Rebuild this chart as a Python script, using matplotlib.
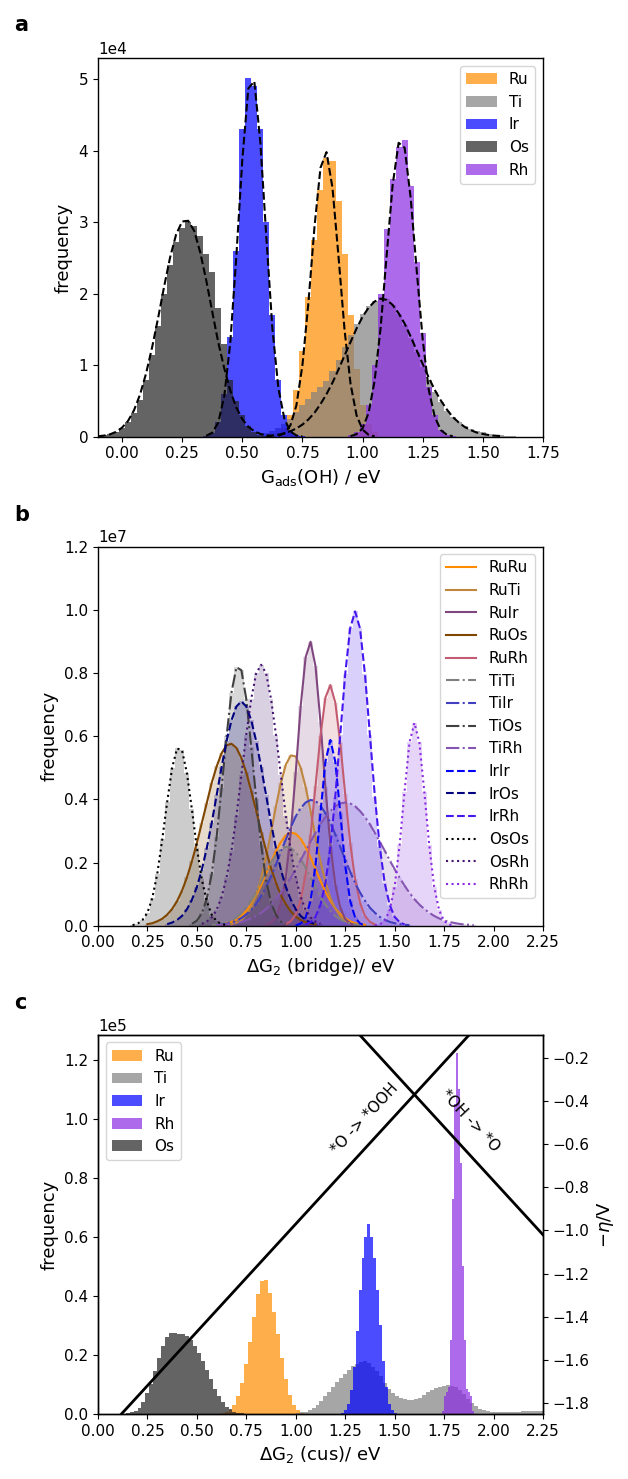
import numpy as np
import matplotlib
matplotlib.use("Agg")
import matplotlib.pyplot as plt

plt.rcParams["font.size"] = 11
plt.rcParams["axes.labelsize"] = 13
plt.rcParams["legend.fontsize"] = 11
plt.rcParams["xtick.labelsize"] = 11
plt.rcParams["ytick.labelsize"] = 11
plt.rcParams["axes.linewidth"] = 1.0

# ---------------- panel a : G_ads(OH), counts in units of 1e4 ----------------
A_ELEMENTS = ["Ru", "Ti", "Ir", "Os", "Rh"]
A_COLORS = ["darkorange", "gray", "blue", "#222222", "blueviolet"]
A_STEP = 0.025
A_START = [0.65, 0.60, 0.35, -0.10, 0.95]   # centre of first bin / first fit point

RU_HIST = [0.05, 0.12, 0.30, 0.65, 1.20, 1.95, 2.75, 3.45, 3.90, 3.85, 3.30, 2.55, 1.70, 0.95, 0.45, 0.18, 0.06]
TI_HIST = [0.05, 0.08, 0.12, 0.18, 0.25, 0.35, 0.45, 0.53, 0.62, 0.70, 0.78, 0.92, 1.08, 1.25, 1.42, 1.58,
           1.72, 1.83, 1.90, 1.95, 1.92, 1.84, 1.72, 1.56, 1.38, 1.18, 0.98, 0.80, 0.63, 0.48, 0.36, 0.27,
           0.20, 0.15, 0.11, 0.08, 0.06, 0.04, 0.03, 0.02, 0.015, 0.01]
IR_HIST = [0.01, 0.05, 0.20, 0.60, 1.40, 2.60, 4.30, 5.02, 4.90, 4.30, 3.00, 1.70, 0.80, 0.30, 0.10, 0.03, 0.01]
OS_HIST = [0.01, 0.02, 0.04, 0.07, 0.12, 0.20, 0.33, 0.52, 0.80, 1.15, 1.55, 2.00, 2.40, 2.72, 2.92, 3.00,
           2.95, 2.80, 2.55, 2.30, 1.80, 1.30, 0.80, 0.50, 0.30, 0.15, 0.07, 0.03, 0.015, 0.005]
RH_HIST = [0.02, 0.06, 0.18, 0.45, 1.00, 2.00, 2.90, 3.60, 4.05, 4.15, 3.50, 2.45, 1.45, 0.70, 0.30, 0.10, 0.03, 0.01]

# fitted normal curves (dashed)
RU_FIT = [0.012, 0.047, 0.16, 0.44, 1.00, 1.88, 2.93, 3.76, 3.98, 3.48, 2.52, 1.50, 0.74, 0.30, 0.10, 0.027, 0.006]
TI_FIT = [0.010, 0.019, 0.029, 0.048, 0.078, 0.116, 0.170, 0.242, 0.335, 0.456, 0.596, 0.756, 0.941, 1.135,
          1.324, 1.513, 1.678, 1.804, 1.891, 1.930, 1.915, 1.843, 1.726, 1.581, 1.401, 1.207, 1.018, 0.829,
          0.655, 0.509, 0.383, 0.276, 0.199, 0.136, 0.092, 0.058, 0.039, 0.024, 0.015, 0.010]
IR_FIT = [0.013, 0.056, 0.197, 0.566, 1.31, 2.51, 3.87, 4.87, 4.97, 4.12, 2.79, 1.52, 0.68, 0.25, 0.073, 0.018, 0.004]
OS_FIT = [0.007, 0.016, 0.034, 0.068, 0.127, 0.221, 0.372, 0.591, 0.885, 1.249, 1.66, 2.10, 2.51, 2.83, 3.01,
          3.02, 2.88, 2.58, 2.19, 1.75, 1.32, 0.958, 0.645, 0.410, 0.246, 0.140, 0.076, 0.040, 0.019, 0.009]
RH_FIT = [0.009, 0.036, 0.118, 0.332, 0.78, 1.52, 2.53, 3.52, 4.11, 4.04, 3.34, 2.33, 1.36, 0.66, 0.28, 0.095, 0.028, 0.007]

A_HISTS = [RU_HIST, TI_HIST, IR_HIST, OS_HIST, RH_HIST]
A_FITS = [RU_FIT, TI_FIT, IR_FIT, OS_FIT, RH_FIT]

# ---------------- panel b : dG2 (bridge), units of 1e7 ----------------
B_PAIRS = ["RuRu", "RuTi", "RuIr", "RuOs", "RuRh", "TiTi", "TiIr", "TiOs", "TiRh",
           "IrIr", "IrOs", "IrRh", "OsOs", "OsRh", "RhRh"]
B_COLORS = ["#ff8c00", "#bf8640", "#804680", "#804600", "#c45c71", "#808080", "#4040c0", "#404040",
            "#8556b1", "#0000ff", "#000080", "#4516f0", "#000000", "#451671", "#8a2be2"]
B_STYLES = ["-", "-", "-", "-", "-", "-.", "-.", "-.", "-.", "--", "--", "--", ":", ":", ":"]
B_STEP = 0.025
B_START = [0.60, 0.675, 0.85, 0.25, 0.95, 0.575, 0.60, 0.475, 0.60, 1.0, 0.35, 1.05, 0.175, 0.525, 1.40]

RURU = [0.002, 0.004, 0.007, 0.012, 0.019, 0.031, 0.047, 0.068, 0.096, 0.128, 0.165, 0.201, 0.236, 0.265,
        0.286, 0.295, 0.291, 0.275, 0.249, 0.216, 0.179, 0.142, 0.108, 0.079, 0.055, 0.037, 0.024, 0.014,
        0.008, 0.005, 0.003]
RUTI = [0.004, 0.009, 0.018, 0.034, 0.060, 0.098, 0.151, 0.218, 0.296, 0.378, 0.453, 0.510, 0.539, 0.536,
        0.500, 0.439, 0.362, 0.280, 0.203, 0.139, 0.089, 0.054, 0.030, 0.016, 0.008, 0.004]
RUIR = [0.003, 0.009, 0.027, 0.070, 0.154, 0.296, 0.486, 0.695, 0.850, 0.899, 0.821, 0.645, 0.438, 0.256,
        0.130, 0.057, 0.021, 0.007, 0.002]
RUOS = [0.005, 0.008, 0.014, 0.022, 0.035, 0.053, 0.078, 0.111, 0.153, 0.204, 0.261, 0.325, 0.388, 0.452,
        0.504, 0.546, 0.571, 0.576, 0.563, 0.531, 0.485, 0.426, 0.364, 0.298, 0.238, 0.182, 0.136, 0.096,
        0.068, 0.045, 0.029, 0.018, 0.011, 0.006, 0.004]
RURH = [0.005, 0.014, 0.036, 0.082, 0.162, 0.286, 0.443, 0.601, 0.722, 0.762, 0.706, 0.579, 0.416, 0.263,
        0.148, 0.072, 0.031, 0.012, 0.004]
TITI = [0.002, 0.003, 0.006, 0.010, 0.016, 0.026, 0.040, 0.058, 0.081, 0.108, 0.140, 0.170, 0.200, 0.224,
        0.242, 0.250, 0.246, 0.233, 0.211, 0.183, 0.152, 0.120, 0.091, 0.067, 0.047, 0.031, 0.020, 0.012,
        0.007, 0.004, 0.003]
TIIR = [0.002, 0.004, 0.006, 0.010, 0.016, 0.024, 0.035, 0.050, 0.069, 0.094, 0.123, 0.156, 0.194, 0.234,
        0.273, 0.312, 0.346, 0.372, 0.390, 0.398, 0.395, 0.380, 0.356, 0.326, 0.289, 0.249, 0.210, 0.171,
        0.135, 0.105, 0.079, 0.057, 0.041, 0.028, 0.019, 0.012, 0.008, 0.005, 0.003, 0.002]
TIOS = [0.006, 0.016, 0.039, 0.085, 0.163, 0.281, 0.435, 0.599, 0.738, 0.818, 0.809, 0.717, 0.565, 0.402,
        0.256, 0.144, 0.073, 0.034, 0.013, 0.005]
TIRH = [0.002, 0.003, 0.004, 0.006, 0.009, 0.012, 0.017, 0.023, 0.031, 0.041, 0.053, 0.067, 0.084, 0.104,
        0.127, 0.152, 0.179, 0.207, 0.237, 0.266, 0.294, 0.321, 0.344, 0.363, 0.378, 0.387, 0.390, 0.387,
        0.378, 0.363, 0.344, 0.321, 0.294, 0.266, 0.237, 0.207, 0.179, 0.152, 0.127, 0.104, 0.084, 0.067,
        0.053, 0.041, 0.031, 0.023, 0.017, 0.012, 0.009, 0.006, 0.004, 0.003, 0.002]
IRIR = [0.001, 0.007, 0.026, 0.079, 0.191, 0.357, 0.519, 0.588, 0.519, 0.357, 0.191, 0.079, 0.026, 0.007, 0.001]
IROS = [0.005, 0.010, 0.018, 0.031, 0.052, 0.082, 0.122, 0.177, 0.245, 0.325, 0.413, 0.502, 0.584, 0.650,
        0.694, 0.710, 0.694, 0.650, 0.584, 0.502, 0.413, 0.325, 0.245, 0.177, 0.122, 0.082, 0.052, 0.031,
        0.018, 0.010, 0.005]
IRRH = [0.004, 0.011, 0.028, 0.066, 0.134, 0.248, 0.409, 0.604, 0.796, 0.941, 0.995, 0.941, 0.796, 0.604,
        0.409, 0.248, 0.134, 0.066, 0.028, 0.011, 0.004]
OSOS = [0.002, 0.006, 0.018, 0.041, 0.088, 0.165, 0.273, 0.392, 0.500, 0.561, 0.555, 0.482, 0.368, 0.247,
        0.147, 0.077, 0.035, 0.014, 0.005, 0.002]
OSRH = [0.006, 0.013, 0.026, 0.050, 0.091, 0.152, 0.237, 0.346, 0.476, 0.605, 0.718, 0.799, 0.826, 0.799,
        0.718, 0.605, 0.476, 0.346, 0.237, 0.152, 0.091, 0.050, 0.026, 0.013, 0.006]
RHRH = [0.001, 0.004, 0.015, 0.049, 0.123, 0.254, 0.424, 0.580, 0.642, 0.580, 0.424, 0.254, 0.123, 0.049,
        0.015, 0.004, 0.001]

B_VALUES = [RURU, RUTI, RUIR, RUOS, RURH, TITI, TIIR, TIOS, TIRH, IRIR, IROS, IRRH, OSOS, OSRH, RHRH]

# ---------------- panel c : dG2 (cus), units of 1e5 ----------------
C_ELEMENTS = ["Ru", "Ti", "Ir", "Rh", "Os"]
C_COLORS = ["darkorange", "gray", "blue", "blueviolet", "#222222"]
C_START = [0.63, 1.01, 1.235, 1.745, 0.15]
C_STEP = [0.02, 0.02, 0.015, 0.01, 0.02]

C_RU = [0.002, 0.005, 0.013, 0.03, 0.06, 0.105, 0.17, 0.245, 0.33, 0.405, 0.45, 0.455, 0.41, 0.345, 0.27,
        0.19, 0.12, 0.065, 0.03, 0.012, 0.004]
C_TI = [0.002, 0.005, 0.008, 0.013, 0.02, 0.03, 0.045, 0.06, 0.075, 0.09, 0.108, 0.123, 0.135, 0.15, 0.162,
        0.17, 0.176, 0.178, 0.172, 0.16, 0.145, 0.128, 0.105, 0.085, 0.07, 0.06, 0.055, 0.05, 0.047, 0.047,
        0.05, 0.055, 0.065, 0.073, 0.082, 0.088, 0.092, 0.095, 0.097, 0.095, 0.09, 0.08, 0.068, 0.052, 0.038,
        0.026, 0.018, 0.012, 0.009, 0.007, 0.006, 0.005, 0.005, 0.005, 0.006, 0.007, 0.008, 0.009, 0.01,
        0.011, 0.011, 0.01, 0.009]
C_IR = [0.003, 0.012, 0.035, 0.08, 0.16, 0.28, 0.42, 0.53, 0.60, 0.645, 0.60, 0.53, 0.42, 0.30, 0.18, 0.09,
        0.035, 0.012, 0.003]
C_RH = [0.01, 0.06, 0.075, 0.09, 0.25, 0.73, 1.05, 1.222, 1.10, 0.85, 0.50, 0.25, 0.085, 0.075, 0.06, 0.01]
C_OS = [0.002, 0.005, 0.01, 0.02, 0.04, 0.07, 0.10, 0.145, 0.19, 0.23, 0.262, 0.273, 0.274, 0.272, 0.27,
        0.265, 0.25, 0.23, 0.205, 0.18, 0.15, 0.12, 0.085, 0.06, 0.04, 0.025, 0.015, 0.008, 0.004, 0.002]
C_VALUES = [C_RU, C_TI, C_IR, C_RH, C_OS]

# limiting potential lines (-eta / V)
LINE_X = [0.0, 2.25]
O_TO_OOH = [-1.97, 0.28]
OH_TO_O = [1.23, -1.02]


def centres(start, step, n):
    return start + step * np.arange(n)


def edges(start, step, n):
    return start - step / 2 + step * np.arange(n + 1)


fig = plt.figure(figsize=(6.28, 14.79), dpi=100)

# ---- a ----
ax = fig.add_axes([0.156, 0.7047, 0.7086, 0.2558])
for name, col, x0, h in zip(A_ELEMENTS, A_COLORS, A_START, A_HISTS):
    n = len(h)
    ax.hist(centres(x0, A_STEP, n), bins=edges(x0, A_STEP, n), weights=np.array(h) * 1e4,
            color=col, alpha=0.7, label=name)
for x0, f in zip(A_START, A_FITS):
    ax.plot(centres(x0, A_STEP, len(f)), np.array(f) * 1e4, "k--", lw=1.5)
ax.set_xlim(-0.1, 1.75)
ax.set_ylim(0, 5.29e4)
ax.set_xticks(np.arange(0, 1.76, 0.25))
ax.ticklabel_format(axis="y", style="sci", scilimits=(0, 0))
ax.set_xlabel("G$_{\\mathrm{ads}}$(OH) / eV")
ax.set_ylabel("frequency")
ax.legend(loc="upper right")

# ---- b ----
ax = fig.add_axes([0.156, 0.3741, 0.7086, 0.2563])
for name, col, ls, x0, v in zip(B_PAIRS, B_COLORS, B_STYLES, B_START, B_VALUES):
    n = len(v)
    x = centres(x0, B_STEP, n)
    ax.hist(x, bins=edges(x0, B_STEP, n), weights=np.array(v) * 1e7,
            histtype="stepfilled", color=col, alpha=0.2)
    ax.plot(x, np.array(v) * 1e7, color=col, ls=ls, lw=1.5, label=name)
ax.set_xlim(0, 2.25)
ax.set_ylim(0, 1.2e7)
ax.set_xticks(np.arange(0, 2.26, 0.25))
ax.ticklabel_format(axis="y", style="sci", scilimits=(0, 0))
ax.set_xlabel("ΔG$_2$ (bridge)/ eV")
ax.set_ylabel("frequency")
ax.legend(loc="upper right")

# ---- c ----
ax = fig.add_axes([0.156, 0.0440, 0.7086, 0.2563])
for name, col, x0, st, v in zip(C_ELEMENTS, C_COLORS, C_START, C_STEP, C_VALUES):
    n = len(v)
    ax.hist(centres(x0, st, n), bins=edges(x0, st, n), weights=np.array(v) * 1e5,
            histtype="stepfilled", color=col, alpha=0.7, label=name)
ax.set_xlim(0, 2.25)
ax.set_ylim(0, 1.285e5)
ax.set_xticks(np.arange(0, 2.26, 0.25))
ax.ticklabel_format(axis="y", style="sci", scilimits=(0, 0))
ax.set_xlabel("ΔG$_2$ (cus)/ eV")
ax.set_ylabel("frequency")
ax.legend(loc="upper left")

ax2 = ax.twinx()
ax2.plot(LINE_X, O_TO_OOH, color="k", lw=2)
ax2.plot(LINE_X, OH_TO_O, color="k", lw=2)
ax2.set_ylim(-1.851, -0.093)
ax2.set_yticks(np.arange(-1.8, -0.19, 0.2))
ax2.set_ylabel("$-\\eta$/V")
ax2.text(1.35, -0.48, "*O -> *OOH", rotation=47, ha="center", va="center")
ax2.text(1.88, -0.49, "*OH -> *O", rotation=-47, ha="center", va="center")

for lab, y in [("a", 0.983), ("b", 0.652), ("c", 0.322)]:
    fig.text(0.022, y, lab, fontsize=15, fontweight="bold", va="center")

fig.savefig("out.png", dpi=100)
